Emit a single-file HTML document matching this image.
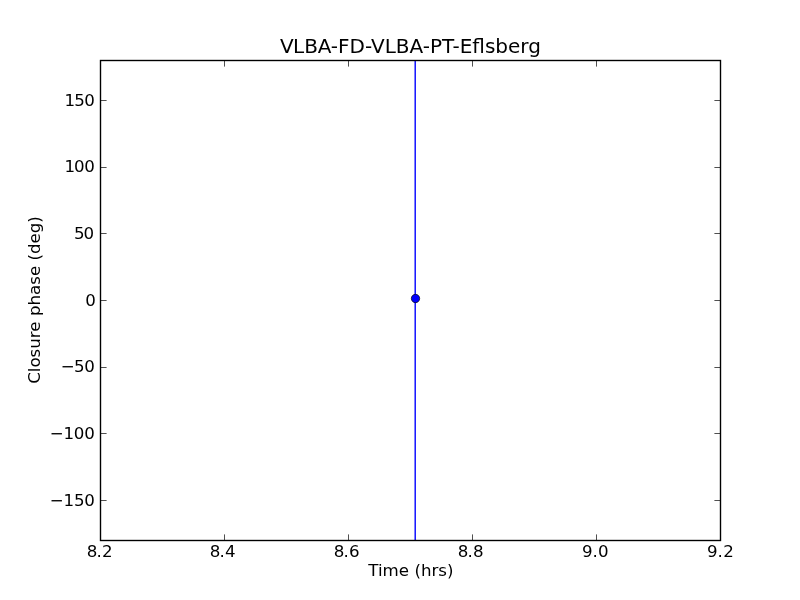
<!DOCTYPE html>
<html lang="en">
<head>
<meta charset="utf-8">
<title>VLBA-FD-VLBA-PT-Eflsberg</title>
<style>
html,body{margin:0;padding:0;background:#fff;}
body{width:800px;height:600px;overflow:hidden;}
svg{display:block;}
text{font-family:"DejaVu Sans","Liberation Sans",sans-serif;fill:#000;}
.t{font-size:16.67px;}
.n{letter-spacing:-0.6px;}
.ttl{font-size:20px;}
</style>
</head>
<body>
<svg width="800" height="600" viewBox="0 0 800 600">
<rect x="0" y="0" width="800" height="600" fill="#ffffff"/>
<!-- data: error bar + marker -->
<line x1="415.2" y1="60.5" x2="415.2" y2="540.5" stroke="#0000ff" stroke-width="1.39"/>
<circle cx="415.5" cy="298.5" r="4.17" fill="#0000ff" stroke="#000" stroke-width="0.69"/>
<!-- axes frame -->
<rect x="100.5" y="60.5" width="620" height="480" fill="none" stroke="#000" stroke-width="1.39"/>
<!-- ticks -->
<g stroke="#000" stroke-width="0.69" fill="none">
<path d="M100.5 100.5h6.1M100.5 167.5h6.1M100.5 233.5h6.1M100.5 300.5h6.1M100.5 367.5h6.1M100.5 433.5h6.1M100.5 500.5h6.1"/>
<path d="M720.5 100.5h-6.1M720.5 167.5h-6.1M720.5 233.5h-6.1M720.5 300.5h-6.1M720.5 367.5h-6.1M720.5 433.5h-6.1M720.5 500.5h-6.1"/>
<path d="M224.5 540.5v-6.1M348.5 540.5v-6.1M472.5 540.5v-6.1M596.5 540.5v-6.1"/>
<path d="M224.5 60.5v6.1M348.5 60.5v6.1M472.5 60.5v6.1M596.5 60.5v6.1"/>
</g>
<!-- title -->
<text class="ttl" x="279.95 293.05 304.2 317.8 330.86" y="53">VLBA-FD-VLBA-PT-Eflsberg</text>
<!-- y tick labels -->
<g class="t">
<text x="64.4 74.15 84.3" y="106">150</text>
<text x="64.4 74 84.3" y="172">100</text>
<text x="74.1 83.6" y="239">50</text>
<text x="85.15" y="306">0</text>
<text x="60.85 74.1 84.3" y="372">−50</text>
<text x="49.85 63.4 73.8 84.3" y="439">−100</text>
<text x="49.85 63.4 74.1 84.3" y="506">−150</text>
</g>
<!-- x tick labels -->
<g class="t">
<text x="86.8 96.5 102" y="557">8.2</text>
<text x="209.8 219.4 225.1" y="557">8.4</text>
<text x="333.8 343.4 349.1" y="557">8.6</text>
<text x="457.8 467.4 472.95" y="557">8.8</text>
<text x="582 592.5 597.95" y="557">9.0</text>
<text x="707 717.5 723.15" y="557">9.2</text>
</g>
<!-- axis labels -->
<text class="t" x="410.9" y="576" text-anchor="middle">Time (hrs)</text>
<text class="t" transform="translate(40.3 300) rotate(-90)" text-anchor="middle">Closure phase (deg)</text>
</svg>
</body>
</html>
